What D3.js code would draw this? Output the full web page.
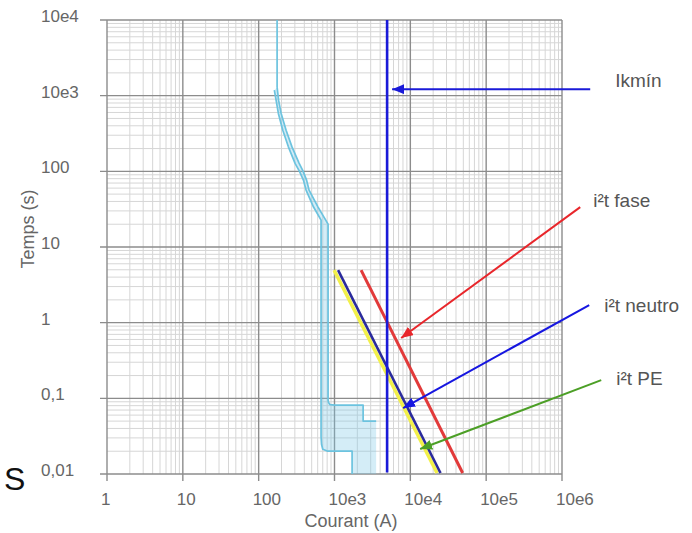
<!DOCTYPE html>
<html><head><meta charset="utf-8">
<script src="https://cdn.jsdelivr.net/npm/d3@7"></script>
<style>
html,body{margin:0;padding:0;background:#fff;}
svg text{font-family:"Liberation Sans",Arial,sans-serif;}
</style></head>
<body><svg id="c" width="692" height="533"></svg>
<script>
// ---------- data ----------
const xTickValues = [1, 10, 100, 1000, 10000, 100000, 1000000];
const xTickLabels = ["1", "10", "100", "10e3", "10e4", "10e5", "10e6"];
const yTickValues = [0.01, 0.1, 1, 10, 100, 1000, 10000];
const yTickLabels = ["0,01", "0,1", "1", "10", "100", "10e3", "10e4"];
const xTitle = "Courant (A)";
const yTitle = "Temps (s)";

// breaker curve (current A, time s)
const breakerTop = [[175, 10000], [175, 1295]];
const breakerTrip = [[175, 1295], [183, 872], [197.5, 587], [230, 350], [275.8, 208.7], [341, 128.4],
  [385, 100.6], [428.5, 76.5], [462, 56.5], [607, 33.7], [823, 20.1],
  [823, 0.095], [835, 0.088], [870, 0.0828], [1018, 0.0815], [2385, 0.0815], [2385, 0.050], [3540, 0.050]];
const breakerNoTrip = [[161, 1182], [169.7, 872], [181.9, 582], [208, 350], [246.5, 210.7], [302, 127.2],
  [344, 100.6], [389, 76.5], [422, 56.5], [527, 34.0], [665, 22.7],
  [665, 0.031], [675, 0.0245], [700, 0.0212], [800, 0.0201], [1706, 0.0201], [1706, 0.01]];
const breakerFillEnd = [[3540, 0.01], [3540, 0.050]];

// Ikmin
const ikminCurrent = 4940;
const ikminTimes = [10000, 0.0105];

// i2t lines [I, t] start / end
const i2tPE = [[988, 4.95], [22500, 0.0103]];
const i2tNeutro = [[1115, 4.95], [25000, 0.0103]];
const i2tFase = [[2244, 4.95], [49000, 0.0103]];

// annotations: label, label anchor [I,t], arrow tail [I,t], arrow tip [I,t], colour
const annLabels = ["Ikmín", "i²t fase", "i²t neutro", "i²t PE"];
const annLabelPos = [[5.03e6, 1294], [2.58e6, 33.7], [3.6e6, 1.38], [5.19e6, 0.15]];
const annTail = [[2.355e6, 1219], [1.738e6, 33.7], [2.285e6, 1.708], [3.29e6, 0.1741]];
const annTip = [[5754, 1219], [7566, 0.626], [8036, 0.0745], [13470, 0.0214]];
const annColors = ["#1a1ad8", "#e8262b", "#1616e0", "#4c9f26"];

// ---------- chart ----------
const svg = d3.select("#c");
const x = d3.scaleLog().domain([1, 1e6]).range([107, 562]);
const y = d3.scaleLog().domain([0.01, 1e4]).range([474, 20]);

// minor grid
const minors = [];
for (let d = 0; d < 6; d++) for (let m = 2; m <= 9; m++) minors.push(m * Math.pow(10, d));
const minorsY = [];
for (let d = -2; d < 4; d++) for (let m = 2; m <= 9; m++) minorsY.push(m * Math.pow(10, d));

const g = svg.append("g");
g.selectAll(".mx").data(minors).join("line")
  .attr("x1", d => x(d)).attr("x2", d => x(d)).attr("y1", y(1e4)).attr("y2", y(0.01))
  .attr("stroke", "#d6d6d6").attr("stroke-width", 1);
g.selectAll(".my").data(minorsY).join("line")
  .attr("y1", d => y(d)).attr("y2", d => y(d)).attr("x1", x(1)).attr("x2", x(1e6))
  .attr("stroke", "#d6d6d6").attr("stroke-width", 1);

// major grid + ticks
g.selectAll(".Mx").data(xTickValues).join("line")
  .attr("x1", d => x(d)).attr("x2", d => x(d)).attr("y1", y(1e4)).attr("y2", y(0.01) + 7)
  .attr("stroke", "#8c8c8c").attr("stroke-width", 1.4);
g.selectAll(".My").data(yTickValues).join("line")
  .attr("y1", d => y(d)).attr("y2", d => y(d)).attr("x1", x(1) - 7).attr("x2", x(1e6))
  .attr("stroke", "#8c8c8c").attr("stroke-width", 1.4);

// tick labels
svg.selectAll(".xl").data(xTickValues).join("text")
  .attr("x", d => x(d) - 6).attr("y", y(0.01) + 31)
  .attr("font-size", 17).attr("fill", "#666").text((d, i) => xTickLabels[i]);
svg.selectAll(".yl").data(yTickValues).join("text")
  .attr("x", 41).attr("y", d => y(d) + 2)
  .attr("font-size", 17).attr("fill", "#666").text((d, i) => yTickLabels[i]);

svg.append("text").attr("x", 351).attr("y", 527).attr("text-anchor", "middle")
  .attr("font-size", 18).attr("fill", "#666").text(xTitle);
svg.append("text").attr("transform", "translate(34,229) rotate(-90)").attr("text-anchor", "middle")
  .attr("font-size", 18).attr("fill", "#666").text(yTitle);

// stray letter from the source page
svg.append("text").attr("x", 4).attr("y", 490).attr("font-size", 32)
  .attr("font-family", "'Open Sans',sans-serif").attr("fill", "#111").text("S");

const line = d3.line().x(d => x(d[0])).y(d => y(d[1]));

// breaker band fill
const fillPts = breakerNoTrip.concat(breakerFillEnd, breakerTrip.slice().reverse());
svg.append("path").attr("d", line(fillPts) + "Z")
  .attr("fill", "rgba(120,200,230,0.32)").attr("stroke", "none");
const bc = "#6cc3df";
[breakerTop, breakerTrip, breakerNoTrip].forEach(p => {
  svg.append("path").attr("d", line(p)).attr("fill", "none")
    .attr("stroke", bc).attr("stroke-width", 1.7).attr("stroke-linejoin", "round");
});

// i2t lines
svg.append("path").attr("d", line(i2tPE)).attr("stroke", "#f2f04a").attr("stroke-width", 3.5).attr("fill", "none");
svg.append("path").attr("d", line(i2tNeutro)).attr("stroke", "#2b2b9c").attr("stroke-width", 2.6).attr("fill", "none");
svg.append("path").attr("d", line(i2tFase)).attr("stroke", "#e23a3a").attr("stroke-width", 3).attr("fill", "none");

// Ikmin vertical line
svg.append("line").attr("x1", x(ikminCurrent)).attr("x2", x(ikminCurrent))
  .attr("y1", y(ikminTimes[0])).attr("y2", y(ikminTimes[1]))
  .attr("stroke", "#1a1ad8").attr("stroke-width", 2.6);

// annotations
const defs = svg.append("defs");
annColors.forEach((c, i) => {
  defs.append("marker").attr("id", "ah" + i).attr("viewBox", "0 0 12 10")
    .attr("refX", 12).attr("refY", 5).attr("markerWidth", 12).attr("markerHeight", 10)
    .attr("markerUnits", "userSpaceOnUse").attr("orient", "auto")
    .append("path").attr("d", "M0,0L12,5L0,10Z").attr("fill", c);
});
annLabels.forEach((lab, i) => {
  svg.append("line").attr("x1", x(annTail[i][0])).attr("y1", y(annTail[i][1]))
    .attr("x2", x(annTip[i][0])).attr("y2", y(annTip[i][1]))
    .attr("stroke", annColors[i]).attr("stroke-width", 2).attr("marker-end", "url(#ah" + i + ")");
  svg.append("text").attr("x", x(annLabelPos[i][0])).attr("y", y(annLabelPos[i][1]))
    .attr("font-size", 19).attr("fill", "#555").text(lab);
});
</script></body></html>
